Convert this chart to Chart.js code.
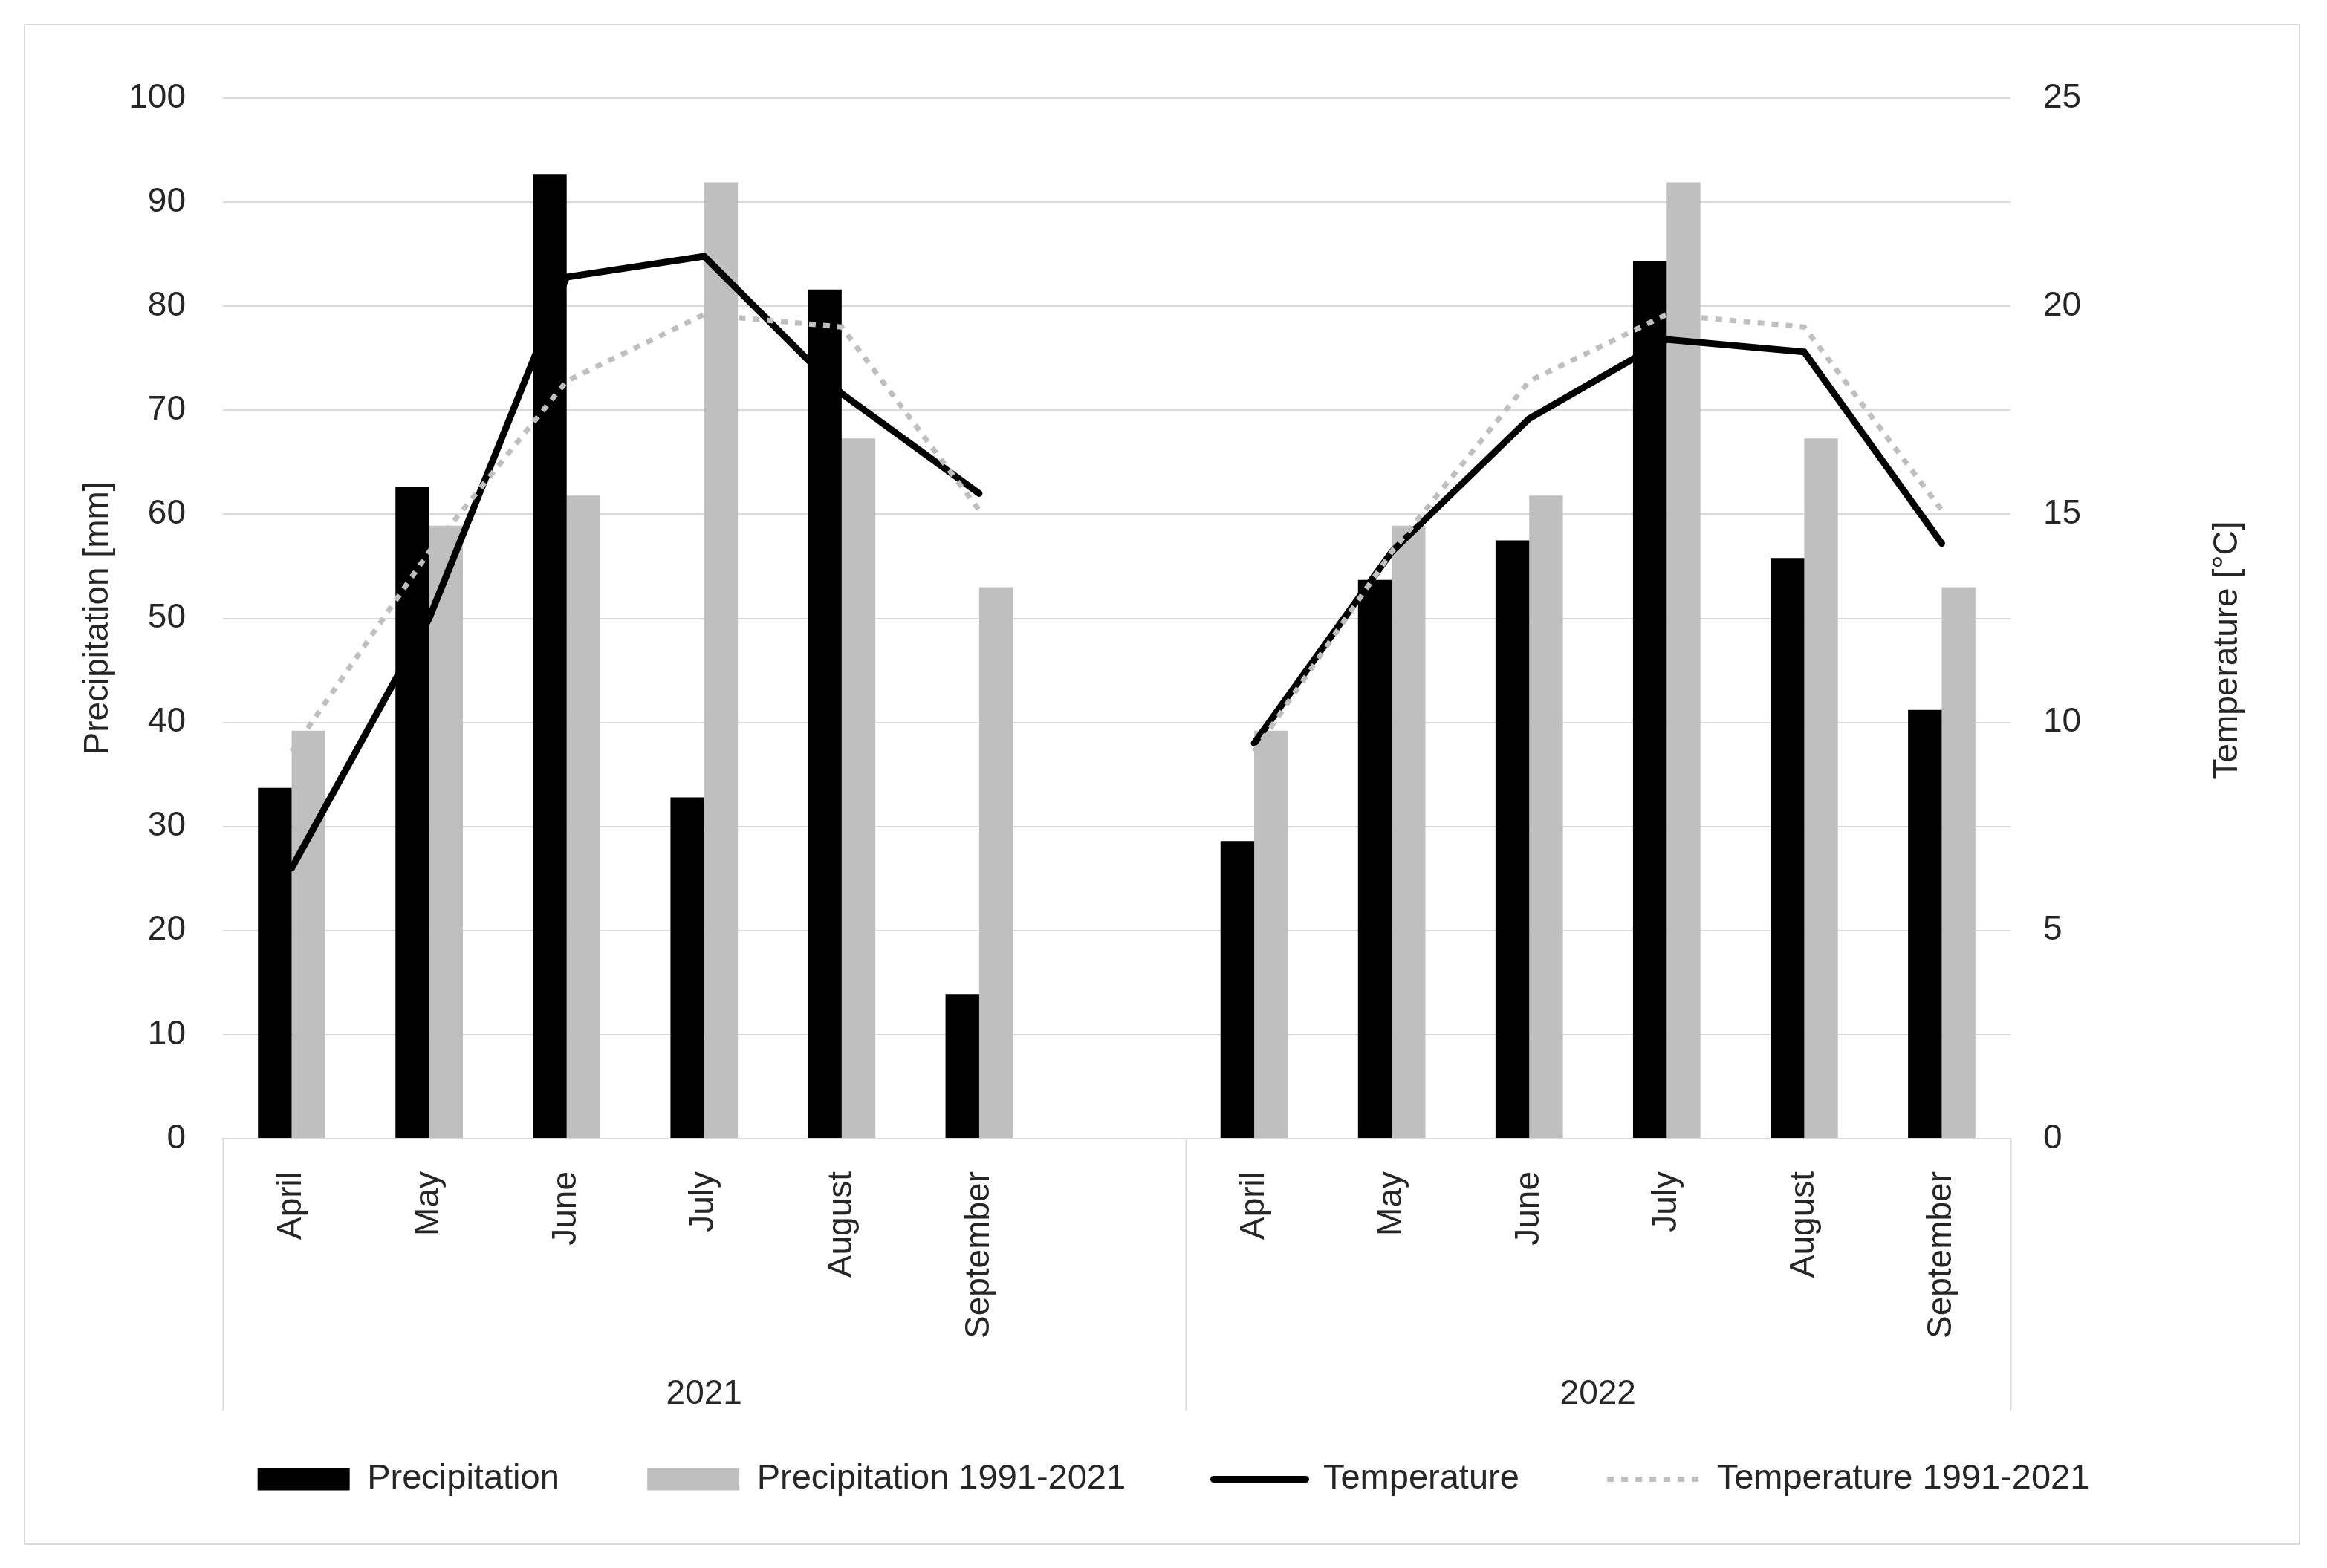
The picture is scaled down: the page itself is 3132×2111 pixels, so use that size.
<!DOCTYPE html>
<html>
<head>
<meta charset="utf-8">
<script src="https://cdn.jsdelivr.net/npm/chart.js@4.4.1/dist/chart.umd.min.js"></script>
<style>
  html, body { margin: 0; padding: 0; background: #fff; }
  #frame { position: absolute; left: 32px; top: 32px; width: 3064px; height: 2048px;
           border: 2px solid #d9d9d9; box-sizing: border-box; background: #fff; }
  #frame canvas { display: block; }
</style>
</head>
<body>
<div id="frame"><canvas id="climateChart" width="3060" height="2044" style="width:3060px;height:2044px"></canvas></div>
<script>
// values
const months = ['April', 'May', 'June', 'July', 'August', 'September'];
const years = ['2021', '2022'];
const precip2021 = [33.7, 62.6, 92.7, 32.8, 81.6, 13.9];
const precip2022 = [28.6, 53.7, 57.5, 84.3, 55.8, 41.2];
const precipNormal = [39.2, 58.9, 61.8, 91.9, 67.3, 53.0];
const temp2021 = [6.5, 12.5, 20.7, 21.2, 17.9, 15.5];
const temp2022 = [9.5, 14.1, 17.3, 19.2, 18.9, 14.3];
const tempNormal = [9.3, 14.1, 18.2, 19.8, 19.5, 15.1];
const precipTicks = { min: 0, max: 100, step: 10 };
const tempTicks = { min: 0, max: 25, step: 5 };

// 2021 group has an empty slot after September, 2022 does not
const groupSizes = [months.length + 1, months.length];
const categories = [...months, '', ...months];
const joinYears = (a, b) => [...a, null, ...b];

const boundaries = [0];
groupSizes.forEach(n => boundaries.push(boundaries[boundaries.length - 1] + n));
const yearCenters = groupSizes.map((n, i) => boundaries[i] + (n - 1) / 2);

const GRID = '#d9d9d9';
const TEXT = '#262626';
const FONT = "'Liberation Sans', Arial, sans-serif";
const LEGEND_GAP = '      '; // extra room between legend entries

Chart.defaults.font.family = FONT;
Chart.defaults.font.size = 46;
Chart.defaults.color = TEXT;

// vertical lines between the year groups below the axis
const groupLines = {
  id: 'groupLines',
  afterDraw(chart) {
    const xs = chart.scales.x, x2 = chart.scales.x2, ctx = chart.ctx;
    const bottom = x2.top + 66;
    ctx.save();
    ctx.strokeStyle = GRID;
    ctx.lineWidth = 2;
    boundaries.forEach(b => {
      const px = Math.round(xs.getPixelForValue(b - 0.5)) + 0.5;
      ctx.beginPath();
      ctx.moveTo(px, chart.chartArea.bottom);
      ctx.lineTo(px, bottom);
      ctx.stroke();
    });
    ctx.restore();
  }
};

// right axis title reads bottom to top, like the left one
const rightTitle = {
  id: 'rightTitle',
  afterDraw(chart) {
    const y1 = chart.scales.y1, ctx = chart.ctx;
    const area = chart.chartArea;
    ctx.save();
    ctx.translate(y1.right - 56, (area.top + area.bottom) / 2 + 43);
    ctx.rotate(-Math.PI / 2);
    ctx.font = '46px ' + FONT;
    ctx.fillStyle = TEXT;
    ctx.textAlign = 'center';
    ctx.textBaseline = 'middle';
    ctx.fillText('Temperature [°C]', 0, 0);
    ctx.restore();
  }
};

new Chart(document.getElementById('climateChart'), {
  data: {
    labels: categories,
    datasets: [
      {
        type: 'bar', label: 'Precipitation', yAxisID: 'y',
        data: joinYears(precip2021, precip2022),
        backgroundColor: '#000000', borderWidth: 0, order: 2,
        categoryPercentage: 0.49, barPercentage: 1
      },
      {
        type: 'bar', label: 'Precipitation 1991-2021', yAxisID: 'y',
        data: joinYears(precipNormal, precipNormal),
        backgroundColor: '#bfbfbf', borderWidth: 0, order: 2,
        categoryPercentage: 0.49, barPercentage: 1
      },
      {
        type: 'line', label: 'Temperature', yAxisID: 'y1',
        data: joinYears(temp2021, temp2022),
        borderColor: '#000000', backgroundColor: '#000000', borderWidth: 9,
        borderCapStyle: 'round', borderJoinStyle: 'miter',
        pointRadius: 0, tension: 0, spanGaps: false, order: 1
      },
      {
        type: 'line', label: 'Temperature 1991-2021', yAxisID: 'y1',
        data: joinYears(tempNormal, tempNormal),
        borderColor: '#bfbfbf', backgroundColor: '#bfbfbf', borderWidth: 7,
        borderDash: [9, 10], borderCapStyle: 'butt', borderJoinStyle: 'miter',
        pointRadius: 0, tension: 0, spanGaps: false, order: 0
      }
    ]
  },
  options: {
    responsive: false,
    devicePixelRatio: 1,
    animation: false,
    layout: { padding: { top: 98, left: 71, right: 40, bottom: 53 } },
    plugins: {
      tooltip: { enabled: false },
      legend: {
        position: 'bottom',
        labels: {
          font: { size: 47 },
          color: TEXT,
          padding: 40,
          usePointStyle: true,
          pointStyleWidth: 124,
          boxHeight: 30,
          generateLabels: chart => {
            const sets = chart.data.datasets;
            return sets.map((ds, i) => ({
              text: ds.label + (i < sets.length - 1 ? LEGEND_GAP : ''),
              fillStyle: ds.type === 'line' ? ds.borderColor : ds.backgroundColor,
              strokeStyle: ds.type === 'line' ? ds.borderColor : ds.backgroundColor,
              lineWidth: ds.type === 'line' ? ds.borderWidth : 0,
              lineDash: ds.borderDash || [],
              lineCap: ds.borderCapStyle || 'butt',
              pointStyle: ds.type === 'line' ? 'line' : 'rect',
              fontColor: TEXT,
              hidden: false,
              datasetIndex: i
            }));
          }
        }
      }
    },
    scales: {
      x: {
        type: 'category',
        position: 'bottom',
        weight: 0,
        grid: { display: false },
        border: { display: true, color: GRID, width: 2 },
        ticks: { autoSkip: false, minRotation: 90, maxRotation: 90, padding: 36, color: TEXT },
        afterFit: s => { s.height = 300; }
      },
      x2: {
        type: 'linear',
        position: 'bottom',
        weight: 1,
        min: -0.5,
        max: categories.length - 0.5,
        grid: { display: false },
        border: { display: false },
        ticks: { maxRotation: 0, autoSkip: false, padding: 9, color: TEXT,
                 callback: (v, i) => years[i] },
        afterBuildTicks: s => { s.ticks = yearCenters.map(v => ({ value: v })); },
        afterFit: s => { s.height = 95; }
      },
      y: {
        position: 'left',
        min: precipTicks.min, max: precipTicks.max,
        ticks: { stepSize: precipTicks.step, padding: 50, color: TEXT },
        grid: { color: GRID, lineWidth: 2, drawTicks: false },
        border: { display: false },
        title: { display: true, text: 'Precipitation [mm]', color: TEXT,
                 font: { size: 46 }, padding: { top: 0, bottom: 0 } },
        afterFit: s => { s.width = 195; }
      },
      y1: {
        position: 'right',
        min: tempTicks.min, max: tempTicks.max,
        ticks: { stepSize: tempTicks.step, padding: 44, color: TEXT },
        grid: { drawOnChartArea: false, drawTicks: false },
        border: { display: false },
        afterFit: s => { s.width = 348; }
      }
    }
  },
  plugins: [groupLines, rightTitle]
});
</script>
</body>
</html>
